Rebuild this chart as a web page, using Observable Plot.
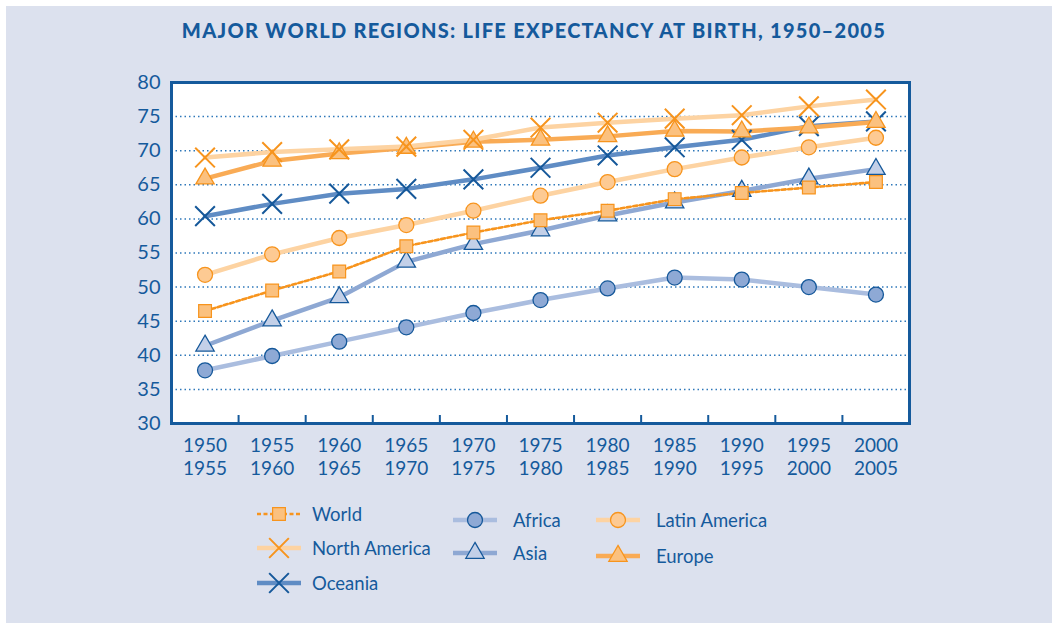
<!DOCTYPE html>
<html>
<head>
<meta charset="utf-8">
<script src="https://cdn.jsdelivr.net/npm/d3@7"></script>
<script src="https://cdn.jsdelivr.net/npm/@observablehq/plot@0.6"></script>
<style>
  html, body { margin: 0; padding: 0; background: #ffffff; width: 1052px; height: 623px; overflow: hidden; }
  #panel { position: absolute; left: 6px; top: 6px; right: 0; bottom: 0; background: #dce1ee; }
  #title { position: absolute; left: 0; top: 18px; width: 1068px; text-align: center;
           font-family: Lato, "Open Sans", sans-serif; font-weight: 900; font-size: 20px; color: #155a9c; letter-spacing: 1.3px; }
  #chart { position: absolute; left: 0; top: 0; }
  .leg { position: absolute; display: flex; align-items: center; font-family: Lato, sans-serif; font-size: 18.5px; color: #155a9c; }
  .leg svg { display: block; }
</style>
</head>
<body>
<div id="panel"></div>
<div id="title">MAJOR WORLD REGIONS: LIFE EXPECTANCY AT BIRTH, 1950–2005</div>
<div id="chart"></div>
<div id="legend"></div>
<script>
// ---- data ----
const periods = [1950, 1955, 1960, 1965, 1970, 1975, 1980, 1985, 1990, 1995, 2000];
const seriesNames = ["World", "North America", "Oceania", "Africa", "Asia", "Latin America", "Europe"];
const world        = [46.5, 49.5, 52.3, 56.0, 58.0, 59.8, 61.2, 62.9, 63.8, 64.6, 65.4];
const northAmerica = [69.0, 69.8, 70.2, 70.6, 71.6, 73.4, 74.1, 74.7, 75.2, 76.5, 77.5];
const oceania      = [60.4, 62.2, 63.7, 64.4, 65.8, 67.5, 69.3, 70.5, 71.6, 73.6, 74.3];
const africa       = [37.8, 39.9, 42.0, 44.1, 46.2, 48.1, 49.8, 51.4, 51.1, 50.0, 48.9];
const asia         = [41.4, 45.1, 48.5, 53.7, 56.3, 58.3, 60.5, 62.4, 64.1, 65.9, 67.3];
const latinAmerica = [51.8, 54.8, 57.2, 59.1, 61.2, 63.4, 65.4, 67.3, 69.0, 70.5, 71.9];
const europe       = [65.9, 68.5, 69.6, 70.4, 71.3, 71.6, 72.1, 72.9, 72.8, 73.4, 74.2];
const yTicks = [30, 35, 40, 45, 50, 55, 60, 65, 70, 75, 80];

const valuesByName = {
  "World": world, "North America": northAmerica, "Oceania": oceania, "Africa": africa,
  "Asia": asia, "Latin America": latinAmerica, "Europe": europe
};

// ---- styles ----
const blue = "#155a9c";
const styles = {
  "World":         {line: "#f7941d", lw: 2.6, dash: "4,2.5", symbol: "square",   r: 7.2, fill: "#fbc17f", stroke: "#f7941d", sw: 1.2},
  "North America": {line: "#fdd3a2", lw: 4.5, dash: null,    symbol: "times",    r: 9,   fill: "none",    stroke: "#f7941d", sw: 2},
  "Oceania":       {line: "#5f8cc4", lw: 4.5, dash: null,    symbol: "times",    r: 9,   fill: "none",    stroke: "#15589a", sw: 2},
  "Africa":        {line: "#aabddf", lw: 4.5, dash: null,    symbol: "circle",   r: 7.5, fill: "#8ea9d5", stroke: "#15589a", sw: 1.3},
  "Asia":          {line: "#8ea8d3", lw: 4.5, dash: null,    symbol: "triangle", r: 6.8, fill: "#c3d0e8", stroke: "#15589a", sw: 1.3},
  "Latin America": {line: "#fdd3a2", lw: 4.5, dash: null,    symbol: "circle",   r: 7.5, fill: "#fdca93", stroke: "#f7941d", sw: 1.3},
  "Europe":        {line: "#f9ab55", lw: 4.5, dash: null,    symbol: "triangle", r: 6.8, fill: "#fbc17f", stroke: "#f7941d", sw: 1.3}
};
const drawOrder = ["Africa", "Asia", "Latin America", "World", "Oceania", "Europe", "North America"];

const rows = [];
for (const name of seriesNames) {
  valuesByName[name].forEach((v, i) => rows.push({name, period: periods[i], value: v}));
}

const W = 1052, H = 500;
const frameTop = 82, frameBottom = 423, frameLeft = 171, frameRight = 909;
const bounds = periods.slice(1).map(p => p - 2.5);

const marks = [
  Plot.frame({fill: "white"}),
  Plot.gridY(yTicks.slice(1, -1), {stroke: "#2f78ba", strokeOpacity: 1, strokeWidth: 1.5, strokeDasharray: "1.5,3"}),
  Plot.tickX(bounds, {x: d => d, stroke: blue, strokeWidth: 2, insetTop: (frameBottom - frameTop) - 8})
];
for (const name of drawOrder) {
  const s = styles[name];
  const data = rows.filter(d => d.name === name);
  marks.push(Plot.line(data, {x: "period", y: "value", stroke: s.line, strokeWidth: s.lw, strokeDasharray: s.dash || undefined, strokeLinejoin: "round"}));
}
for (const name of drawOrder) {
  const s = styles[name];
  const data = rows.filter(d => d.name === name);
  marks.push(Plot.dot(data, {x: "period", y: "value", symbol: s.symbol, r: s.r, fill: s.fill, stroke: s.stroke, strokeWidth: s.sw}));
}
marks.push(
  Plot.frame({stroke: blue, strokeWidth: 3}),
  Plot.axisY({ticks: yTicks, tickSize: 0, tickPadding: 11, fontSize: 20, label: null, fill: blue}),
  Plot.text(periods, {x: d => d, text: d => `${d}\n${d + 5}`, frameAnchor: "bottom", lineAnchor: "top", dy: 13, fontSize: 19, lineHeight: 1.17, fill: blue})
);

const chart = Plot.plot({
  width: W, height: H,
  marginLeft: frameLeft, marginRight: W - frameRight, marginTop: frameTop, marginBottom: H - frameBottom,
  style: {background: "transparent", fontFamily: "Lato, sans-serif", color: blue, overflow: "visible"},
  x: {domain: [periods[0] - 2.5, periods[periods.length - 1] + 2.5], axis: null},
  y: {domain: [30, 80], axis: null},
  marks
});
document.getElementById("chart").appendChild(chart);

// ---- legend ----
const legendLayout = {
  "World":         {x: 257, y: 514},
  "North America": {x: 257, y: 548},
  "Oceania":       {x: 257, y: 583},
  "Africa":        {x: 453, y: 520},
  "Asia":          {x: 453, y: 553},
  "Latin America": {x: 596, y: 520},
  "Europe":        {x: 596, y: 556}
};
const swW = 44, swH = 24;
const legend = d3.select("#legend");
for (const name of seriesNames) {
  const s = styles[name], p = legendLayout[name];
  const item = legend.append("div").attr("class", "leg")
    .style("left", p.x + "px").style("top", (p.y - swH / 2) + "px").style("height", swH + "px");
  const svg = item.append("svg").attr("width", swW).attr("height", swH);
  svg.append("line").attr("x1", 0).attr("x2", swW).attr("y1", swH / 2).attr("y2", swH / 2)
    .attr("stroke", s.line).attr("stroke-width", name === "World" ? 2.4 : 4.5)
    .attr("stroke-dasharray", s.dash);
  const sym = {square: d3.symbolSquare, times: d3.symbolTimes, circle: d3.symbolCircle, triangle: d3.symbolTriangle}[s.symbol];
  svg.append("path").attr("transform", `translate(${swW / 2},${swH / 2})`)
    .attr("d", d3.symbol(sym, Math.PI * s.r * s.r)())
    .attr("fill", s.fill).attr("stroke", s.stroke).attr("stroke-width", s.sw);
  item.append("span").style("margin-left", (p.x === 257 ? 11 : 16) + "px").text(name);
}
</script>
</body>
</html>
